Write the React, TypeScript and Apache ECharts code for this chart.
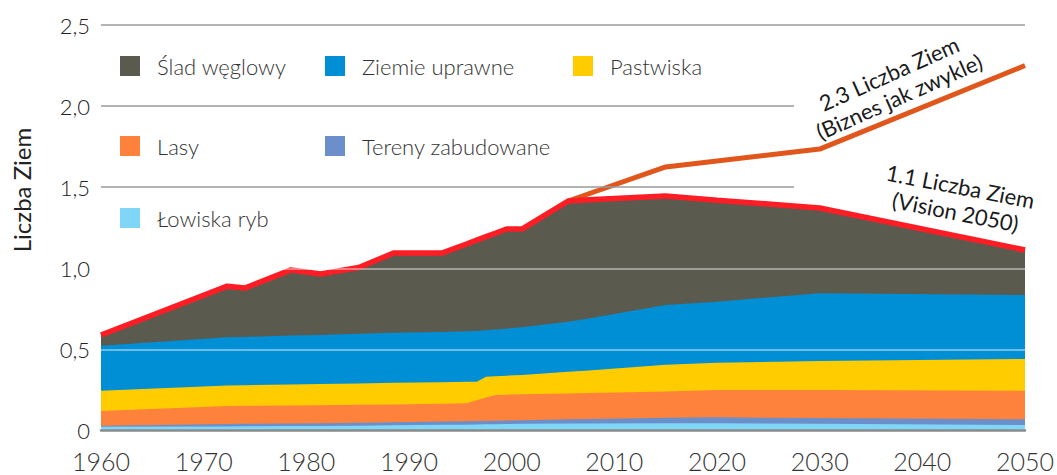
import React, { useEffect, useRef } from "react";
import * as echarts from "echarts";

const years = [1960, 1972.3, 1974, 1978.5, 1981.4, 1985.1, 1988.5, 1993.2, 1995.6, 1996.6, 1997.5, 1998.4, 1999.5, 2001, 2005.5, 2007.5, 2015, 2020, 2030, 2050];

const lowiska = [0.023, 0.025, 0.026, 0.027, 0.028, 0.030, 0.032, 0.035, 0.036, 0.037, 0.038, 0.039, 0.040, 0.041, 0.043, 0.043, 0.044, 0.044, 0.042, 0.034];
const tereny = [0.007, 0.015, 0.015, 0.016, 0.017, 0.018, 0.019, 0.020, 0.021, 0.021, 0.021, 0.021, 0.021, 0.022, 0.026, 0.028, 0.034, 0.037, 0.035, 0.035];
const lasy = [0.090, 0.111, 0.111, 0.111, 0.111, 0.110, 0.110, 0.110, 0.111, 0.128, 0.144, 0.159, 0.160, 0.160, 0.159, 0.160, 0.162, 0.169, 0.173, 0.176];
const pastwiska = [0.125, 0.126, 0.127, 0.129, 0.130, 0.132, 0.133, 0.133, 0.132, 0.115, 0.129, 0.116, 0.117, 0.119, 0.134, 0.139, 0.165, 0.168, 0.178, 0.196];
const ziemie = [0.278, 0.298, 0.298, 0.302, 0.303, 0.307, 0.308, 0.310, 0.312, 0.313, 0.286, 0.287, 0.290, 0.294, 0.308, 0.320, 0.369, 0.376, 0.418, 0.394];
const slad = [0.066, 0.315, 0.301, 0.405, 0.376, 0.408, 0.492, 0.486, 0.538, 0.560, 0.577, 0.594, 0.614, 0.606, 0.745, 0.732, 0.672, 0.626, 0.526, 0.278];

const bauYears = [2005.5, 2015, 2030, 2050];
const bauValues = [1.415, 1.625, 1.735, 2.25];

// bottom-to-top order of the stack
const layerNames = ["Łowiska ryb", "Tereny zabudowane", "Lasy", "Pastwiska", "Ziemie uprawne", "Ślad węglowy"];
const layerValues = [lowiska, tereny, lasy, pastwiska, ziemie, slad];
const layerColors = ["#80d6f6", "#6a8fca", "#ff823c", "#ffcc00", "#008fd5", "#5b5a4f"];

const yTicks = [0, 0.5, 1.0, 1.5, 2.0, 2.5];
const yTickLabels = ["0", "0,5", "1,0", "1,5", "2,0", "2,5"];

const FONT = "Lato, 'Open Sans', sans-serif";

export default function App() {
  const ref = useRef<HTMLDivElement>(null);
  useEffect(() => {
    if (!ref.current) return;
    const chart = echarts.init(ref.current, undefined, { renderer: "svg" });

    // cumulative tops of the stack, built from the layer arrays
    const cumulative: number[][] = [];
    layerValues.forEach((arr, k) => {
      cumulative.push(arr.map((v, i) => v + (k > 0 ? cumulative[k - 1][i] : 0)));
    });
    const totals = cumulative[cumulative.length - 1];

    // draw the tallest boundary first, each area filled down to zero
    const areaSeries = layerNames
      .map((name, k) => ({
        name,
        type: "line",
        data: years.map((y, i) => [y, cumulative[k][i]]),
        symbol: "none",
        lineStyle: { width: 0, color: layerColors[k] },
        itemStyle: { color: layerColors[k] },
        areaStyle: { color: layerColors[k], opacity: 1, origin: "start" },
        silent: true,
        z: 2,
      }))
      .reverse();

    const mkLegend = (name: string, left: number, top: number) => ({
      data: [name],
      left,
      top,
      padding: 0,
      orient: "horizontal",
      itemWidth: 20,
      itemHeight: 20,
      icon: "rect",
      selectedMode: false,
      textStyle: {
        fontFamily: FONT,
        fontSize: 22,
        fontWeight: 300,
        color: "#333",
        padding: [0, 0, 0, 12],
      },
    });

    chart.setOption({
      animation: false,
      backgroundColor: "#ffffff",
      grid: { left: 101, right: 28, top: 25, bottom: 44.5, containLabel: false },
      legend: [
        mkLegend("Ślad węglowy", 120, 55),
        mkLegend("Ziemie uprawne", 325, 55),
        mkLegend("Pastwiska", 573, 55),
        mkLegend("Lasy", 120, 135),
        mkLegend("Tereny zabudowane", 325, 135),
        mkLegend("Łowiska ryb", 120, 207),
      ],
      xAxis: {
        type: "value",
        min: 1960,
        max: 2050,
        interval: 10,
        z: 5,
        axisLine: { show: true, lineStyle: { color: "#8a8a8a", width: 2.5 } },
        axisTick: { show: false },
        splitLine: { show: false },
        axisLabel: {
          margin: 18,
          fontFamily: FONT,
          fontSize: 25,
          fontWeight: 300,
          color: "#333",
          formatter: (v: number) => String(v),
        },
      },
      yAxis: {
        type: "value",
        min: 0,
        max: 2.5,
        interval: 0.5,
        axisLine: { show: false },
        axisTick: { show: false },
        splitLine: { show: false },
        axisLabel: {
          margin: 11,
          fontFamily: FONT,
          fontSize: 22,
          fontWeight: 300,
          color: "#222",
          formatter: (v: number) => {
            const idx = yTicks.findIndex((t) => Math.abs(t - v) < 1e-6);
            return idx >= 0 ? yTickLabels[idx] : "";
          },
        },
      },
      series: [
        {
          name: "grid",
          type: "line",
          data: [],
          silent: true,
          z: 1,
          markLine: {
            silent: true,
            symbol: ["none", "none"],
            label: { show: false },
            lineStyle: { type: "solid", color: "#9a9a9a", width: 1.5 },
            data: [
              [{ coord: [1960, 2.5] }, { coord: [2050, 2.5] }],
              [{ coord: [1960, 2.0] }, { coord: [2027.5, 2.0] }],
              [{ coord: [1960, 1.5] }, { coord: [2027.5, 1.5] }],
            ],
          },
        },
        ...areaSeries,
        {
          name: "Biznes jak zwykle",
          type: "line",
          data: bauYears.map((y, i) => [y, bauValues[i]]),
          symbol: "none",
          silent: true,
          lineStyle: { color: "#e0561b", width: 5 },
          z: 3,
        },
        {
          name: "Vision 2050",
          type: "line",
          data: years.map((y, i) => [y, totals[i]]),
          symbol: "none",
          silent: true,
          lineStyle: { color: "#ff1d25", width: 5.5 },
          z: 4,
          markLine: {
            silent: true,
            symbol: ["none", "none"],
            label: { show: false },
            lineStyle: { type: "solid", color: "rgba(255,255,255,0.55)", width: 1.5 },
            data: [
              [{ coord: [1960, 1.0] }, { coord: [2050, 1.0] }],
              [{ coord: [1960, 0.5] }, { coord: [2050, 0.5] }],
            ],
          },
        },
      ],
      graphic: [
        {
          type: "text",
          x: 21,
          y: 190,
          rotation: Math.PI / 2,
          style: {
            text: "Liczba Ziem",
            fontFamily: FONT,
            fontSize: 24,
            fill: "#222",
            align: "center",
            verticalAlign: "middle",
          },
        },
        {
          type: "text",
          x: 894,
          y: 85,
          rotation: (24 * Math.PI) / 180,
          style: {
            text: "2.3 Liczba Ziem\n(Biznes jak zwykle)",
            fontFamily: FONT,
            fontSize: 22,
            lineHeight: 25,
            fill: "#1a1a1a",
            align: "center",
            verticalAlign: "middle",
          },
        },
        {
          type: "text",
          x: 958,
          y: 199,
          rotation: (-11 * Math.PI) / 180,
          style: {
            text: "1.1 Liczba Ziem\n(Vision 2050)",
            fontFamily: FONT,
            fontSize: 22,
            lineHeight: 26,
            fill: "#1a1a1a",
            align: "center",
            verticalAlign: "middle",
          },
        },
      ],
    });

    return () => chart.dispose();
  }, []);

  return (
    <div
      ref={ref}
      style={{ position: "fixed", left: 0, top: 0, width: 1057, height: 475, background: "#fff" }}
    />
  );
}
